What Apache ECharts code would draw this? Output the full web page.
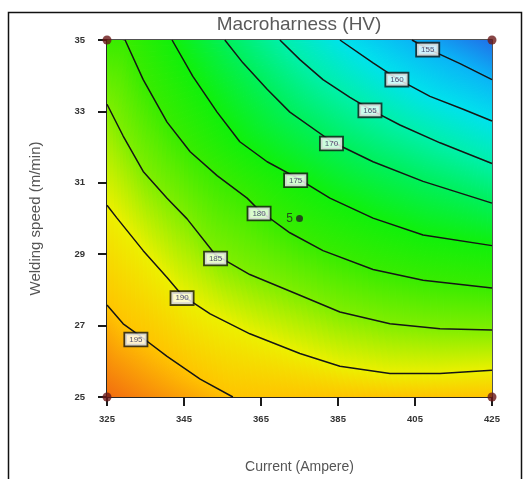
<!DOCTYPE html>
<html><head><meta charset="utf-8">
<script src="https://cdn.jsdelivr.net/npm/echarts@6/dist/echarts.min.js"></script>
<style>html,body{margin:0;padding:0;background:#fff}#c{width:528px;height:479px}</style>
</head><body><div id="c"></div>
<script>
// ---- data ----
const xRange = [325, 425];          // Current (Ampere)
const yRange = [25, 35];            // Welding speed (m/min)
const xTickStep = 20;
const yTickStep = 2;
const levels = [195, 190, 185, 180, 175, 170, 165, 160, 155];
const cornerLowValue = 152;   // estimated value at top-right corner
const cornerHighValue = 199;  // estimated value at bottom-left corner

const line195 = [[325,27.58],[329.2,27.05],[333.1,26.75],[340.6,26.14],[349.2,25.5],[357.7,25]];
const line190 = [[325,30.37],[327.6,30.01],[334.4,29.1],[340.6,28.35],[344.5,27.85],[351.8,27.33],[362.1,26.77],[375.1,26.22],[385.5,25.86],[398.5,25.66],[411.5,25.66],[425,25.75]];
const line185 = [[325,33.2],[329.2,32.31],[334.4,31.32],[340.6,30.57],[345.8,29.99],[353.1,28.99],[362.1,28.43],[375.1,27.85],[385.5,27.38],[398.5,27.05],[411.5,26.91],[425,26.88]];
const line180 = [[329.7,35],[334.4,33.89],[340.6,32.7],[346.6,31.87],[353.6,31.2],[361.4,30.57],[364.7,30.21],[372.5,29.6],[381.1,29.1],[394.1,28.57],[407.1,28.27],[425,28.05]];
const line175 = [[341.9,35],[347.3,33.98],[353.6,32.98],[359.5,32.15],[366.6,31.59],[374.1,31.15],[382.9,30.57],[394.1,30.01],[407.1,29.54],[425,29.24]];
const line170 = [[355.6,35],[360.3,34.36],[366.6,33.62],[372.5,32.98],[383.4,32.15],[394.1,31.59],[407.1,31.04],[425,30.43]];
const line165 = [[369.9,35],[375.1,34.45],[381.1,33.89],[388.1,33.39],[393.8,33.03],[401.1,32.62],[411.5,32.12],[425,31.54]];
const line160 = [[385.5,35],[394.1,34.36],[400.3,33.92],[408.9,33.42],[417.5,33.06],[425,32.73]];
const line155 = [[404.2,35],[408.4,34.75],[416.7,34.34],[425,33.89]];

const labelPositions = [[332.5,26.61],[344.5,27.77],[353.2,28.88],[364.5,30.14],[374,31.07],[383.3,32.1],[393.3,33.03],[400.3,33.89],[408.3,34.73]];
const designPoints = [[325,25],[325,35],[425,25],[425,35]];
const centerPoint = [375,30];
const centerRuns = '5';

// ---- drawing ----
const contourLines = [line195, line190, line185, line180, line175, line170, line165, line160, line155];
const BL = [xRange[0], yRange[0]], BR = [xRange[1], yRange[0]], TL = [xRange[0], yRange[1]], TR = [xRange[1], yRange[1]];

const bands = [
  {a: [BL], va: cornerHighValue, b: line195, vb: 195},
  {a: line195.concat([BR]), va: 195, b: line190, vb: 190},
  {a: line190, va: 190, b: line185, vb: 185},
  {a: line185, va: 185, b: [TL].concat(line180), vb: 180},
  {a: line180, va: 180, b: line175, vb: 175},
  {a: line175, va: 175, b: line170, vb: 170},
  {a: line170, va: 170, b: line165, vb: 165},
  {a: line165, va: 165, b: line160, vb: 160},
  {a: line160, va: 160, b: line155, vb: 155},
  {a: line155, va: 155, b: [TR], vb: cornerLowValue}
];

const colorStops = [
  [150, [24, 90, 230]],
  [152, [32, 112, 232]],
  [155, [10, 180, 246]],
  [160, [0, 226, 236]],
  [165, [0, 240, 170]],
  [170, [0, 240, 90]],
  [175, [16, 240, 10]],
  [180, [56, 236, 0]],
  [185, [128, 238, 0]],
  [190, [236, 240, 0]],
  [195, [255, 196, 0]],
  [199, [242, 108, 16]],
  [202, [232, 72, 16]]
];
function colorOf(v) {
  if (v <= colorStops[0][0]) return 'rgb(' + colorStops[0][1].join(',') + ')';
  for (let i = 1; i < colorStops.length; i++) {
    if (v <= colorStops[i][0]) {
      const [v0, c0] = colorStops[i-1], [v1, c1] = colorStops[i];
      const t = (v - v0) / (v1 - v0);
      const c = c0.map((x, k) => Math.round(x + (c1[k] - x) * t));
      return 'rgb(' + c.join(',') + ')';
    }
  }
  return 'rgb(' + colorStops[colorStops.length-1][1].join(',') + ')';
}
function resample(pts, n) {
  if (pts.length === 1) return Array.from({length: n+1}, () => pts[0]);
  const cum = [0];
  for (let i = 1; i < pts.length; i++) cum.push(cum[i-1] + Math.hypot(pts[i][0]-pts[i-1][0], pts[i][1]-pts[i-1][1]));
  const L = cum[cum.length-1];
  const out = [];
  let j = 1;
  for (let i = 0; i <= n; i++) {
    const t = L * i / n;
    while (j < pts.length - 1 && cum[j] < t) j++;
    const s = cum[j] - cum[j-1] || 1;
    const f = Math.max(0, Math.min(1, (t - cum[j-1]) / s));
    out.push([pts[j-1][0] + (pts[j][0]-pts[j-1][0]) * f, pts[j-1][1] + (pts[j][1]-pts[j-1][1]) * f]);
  }
  return out;
}
function renderBand(params, api) {
  const b = bands[params.dataIndex];
  const N = 70;
  const A = resample(b.a.map(p => api.coord(p)), N);
  const B = resample(b.b.map(p => api.coord(p)), N);
  const stops = [
    {offset: 0, color: colorOf(b.va)},
    {offset: 0.5, color: colorOf((b.va + b.vb) / 2)},
    {offset: 1, color: colorOf(b.vb)}
  ];
  const children = [];
  for (let i = 0; i < N; i++) {
    const pA = [(A[i][0]+A[i+1][0])/2, (A[i][1]+A[i+1][1])/2];
    const pB = [(B[i][0]+B[i+1][0])/2, (B[i][1]+B[i+1][1])/2];
    const g = {type: 'linear', x: pA[0], y: pA[1], x2: pB[0], y2: pB[1], global: true, colorStops: stops};
    children.push({
      type: 'polygon',
      shape: {points: [A[i], A[i+1], B[i+1], B[i]]},
      style: {fill: g, stroke: g, lineWidth: 1.2}
    });
  }
  return {type: 'group', children};
}

const FONT = 'Liberation Sans, Arial, sans-serif';
const series = [];
series.push({
  type: 'custom', renderItem: renderBand, clip: true, z: 1, silent: true,
  data: bands.map(b => b.a[0])
});
contourLines.forEach((ln) => {
  series.push({
    type: 'line', data: ln, showSymbol: false, symbol: 'none', z: 3, silent: true,
    lineStyle: {color: '#151515', width: 1.5}
  });
});
series.push({
  type: 'scatter', z: 5, symbolSize: 0, silent: true,
  data: labelPositions.map((p, i) => [p[0], p[1], levels[i]]),
  label: {
    show: true, position: 'inside', formatter: p => String(p.value[2]),
    fontSize: 8, fontFamily: FONT, color: '#2a2a55', backgroundColor: '#fff',
    borderColor: '#151515', borderWidth: 1.8, padding: [2, 4, 1, 4], lineHeight: 9
  }
});
series.push({
  type: 'scatter', z: 6, symbol: 'circle', symbolSize: 9, silent: true,
  itemStyle: {color: '#6a1818'}, data: designPoints
});
series.push({
  type: 'scatter', z: 6, symbol: 'circle', symbolSize: 7, silent: true,
  itemStyle: {color: '#222'}, data: [centerPoint],
  label: {show: true, position: 'left', distance: 3, formatter: centerRuns, fontSize: 12, fontFamily: FONT, color: '#222'}
});

const chart = echarts.init(document.getElementById('c'), null, {renderer: 'canvas'});
chart.setOption({
  animation: false,
  backgroundColor: '#fff',
  grid: {left: 107, right: 36, top: 40, bottom: 78, show: true, borderColor: '#1a1a1a', borderWidth: 1.5, backgroundColor: 'transparent'},
  xAxis: {
    type: 'value', min: xRange[0], max: xRange[1], interval: xTickStep,
    name: 'Current (Ampere)', nameLocation: 'middle', nameGap: 63,
    nameTextStyle: {fontSize: 14, color: '#555', fontFamily: FONT},
    axisLine: {show: true, onZero: false, lineStyle: {color: '#1a1a1a', width: 1.5}},
    axisTick: {show: true, inside: false, length: 9, lineStyle: {color: '#1a1a1a', width: 2}},
    axisLabel: {fontSize: 9.5, fontWeight: 'bold', color: '#333', margin: 17, fontFamily: FONT},
    splitLine: {show: false}
  },
  yAxis: {
    type: 'value', min: yRange[0], max: yRange[1], interval: yTickStep,
    name: 'Welding speed (m/min)', nameLocation: 'middle', nameGap: 64,
    nameTextStyle: {fontSize: 15, color: '#555', fontFamily: FONT},
    axisLine: {show: true, onZero: false, lineStyle: {color: '#1a1a1a', width: 1.5}},
    axisTick: {show: true, inside: false, length: 9, lineStyle: {color: '#1a1a1a', width: 2}},
    axisLabel: {fontSize: 9.5, fontWeight: 'bold', color: '#333', margin: 22, fontFamily: FONT},
    splitLine: {show: false}
  },
  graphic: [
    {type: 'rect', shape: {x: 8.5, y: 12.5, width: 513, height: 480}, style: {fill: 'none', stroke: '#111', lineWidth: 1.5}, silent: true},
    {type: 'text', x: 299, y: 25, style: {text: 'Macroharness (HV)', textAlign: 'center', textVerticalAlign: 'middle', fontSize: 19, fill: '#5a5a5a', fontFamily: FONT}, silent: true}
  ],
  series
});
</script></body></html>
